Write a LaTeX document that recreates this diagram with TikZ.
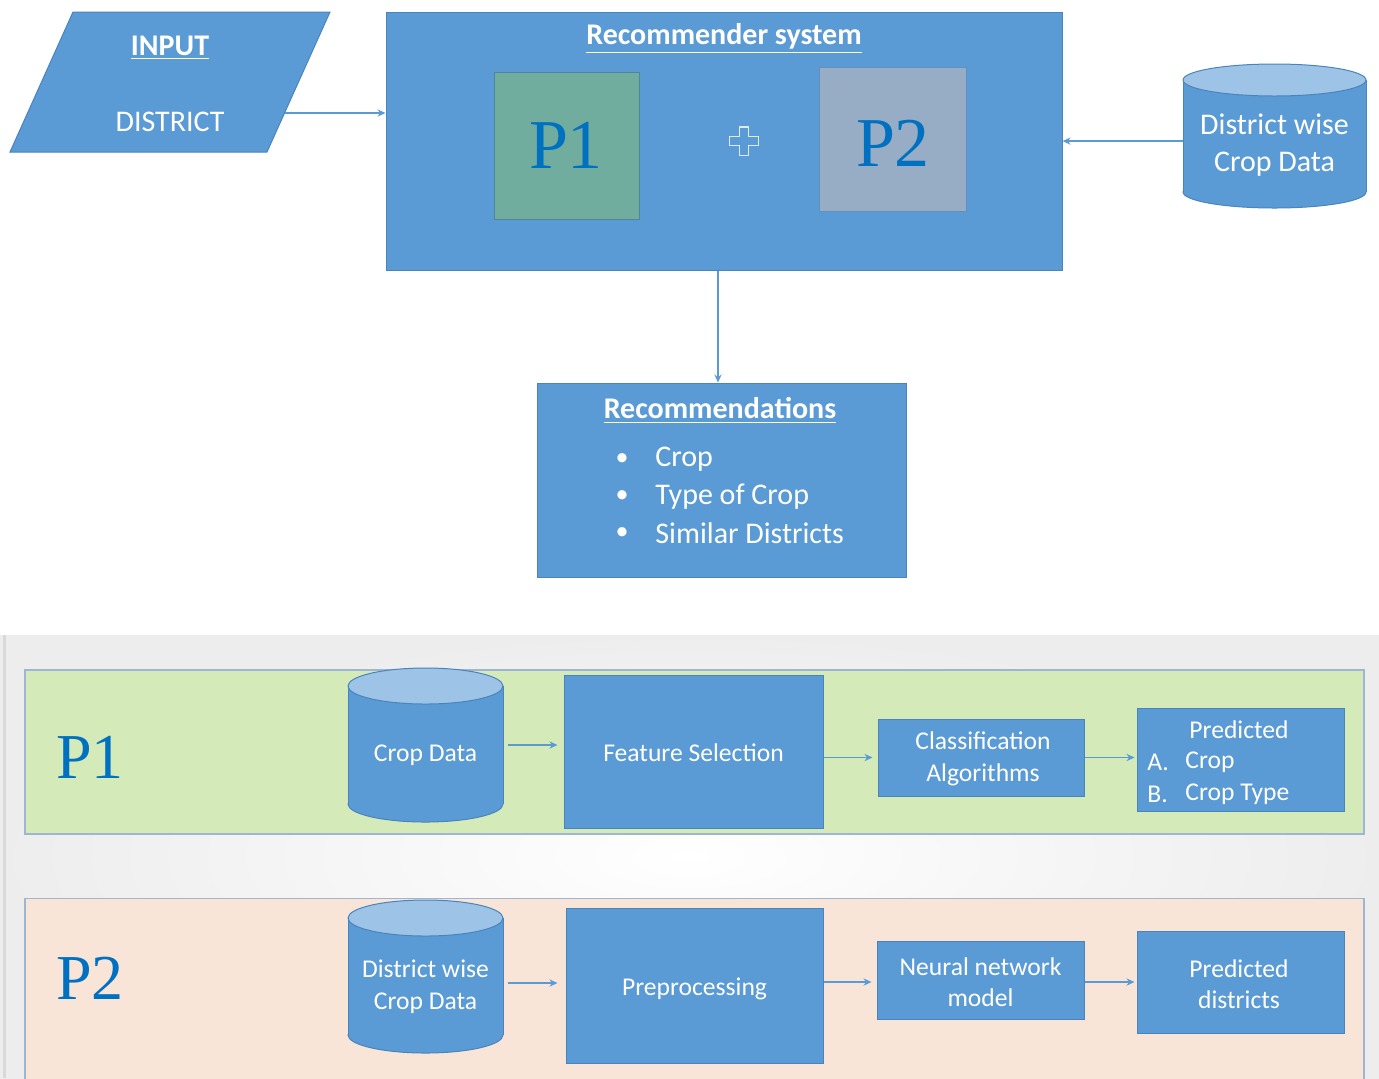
\documentclass[tikz,border=0pt]{standalone}
\usepackage{fontspec}
\setmainfont{Carlito}
\newfontfamily\pfont{Liberation Serif}
\usetikzlibrary{arrows.meta,calc}
\definecolor{mblue}{HTML}{5B9BD5}
\definecolor{bline}{HTML}{4A84BD}
\definecolor{ctop}{HTML}{9DC3E6}
\definecolor{pgreen}{HTML}{70AD9F}
\definecolor{pgrey}{HTML}{97ADC5}
\definecolor{ptext}{HTML}{0070C0}
\definecolor{bandg}{HTML}{D4EAB9}
\definecolor{bando}{HTML}{F8E5D8}
\definecolor{bandline}{HTML}{9FB6D2}
\definecolor{arrc}{HTML}{5B9BD5}
\newcommand\mycyl[5]{%
  \filldraw[fill=mblue,draw=bline,line width=0.5pt] (#1,#3) ellipse ({#4*0.5pt} and {#5*0.5pt});
  \fill[mblue] (#1-#4,#2) rectangle (#1+#4,#3);
  \draw[bline,line width=0.5pt] (#1-#4,#2) -- (#1-#4,#3) (#1+#4,#2) -- (#1+#4,#3);
  \filldraw[fill=ctop,draw=bline,line width=0.5pt] (#1,#2) ellipse ({#4*0.5pt} and {#5*0.5pt});}
\tikzset{
  bbox/.style={draw=bline, line width=0.5pt, fill=mblue, inner sep=0pt},
  wbig/.style={text=white, font=\fontsize{15}{18.5}\selectfont, align=center, inner sep=0pt, yshift=-1.25pt},
  wsm/.style={text=white, font=\fontsize{12.8}{15.8}\selectfont, align=center, inner sep=0pt, yshift=-1pt},
  ptxt/.style={text=ptext, inner sep=0pt},
  arr/.style={draw=arrc, line width=0.7pt, -{Stealth[length=4pt,width=3.6pt]}},
  band/.style={draw=bandline, line width=0.6pt, inner sep=0pt},
}
\begin{document}
\begin{tikzpicture}[x=0.5pt,y=-0.5pt]
\useasboundingbox (0,0) rectangle (1379,1078);
\fill[white] (0,0) rectangle (1379,1078);
% ---------- top part ----------
\filldraw[fill=mblue,draw=bline,line width=0.5pt] (73,12) -- (330,12) -- (267,152) -- (10,152) -- cycle;
\node[wbig] (inputt) at (170,45) {\underline{\textbf{INPUT}}};
\node[wbig] (district) at (170,119) {DISTRICT};
\coordinate (inR) at (285,113);

\node[bbox, minimum width=338pt, minimum height=129pt] (rec) at (724,141) {};
\node[wbig] (rectitle) at (724,36) {\underline{\textbf{Recommender system}}};
\node[draw=bline!80!black!60!pgreen, fill=pgreen, line width=0.5pt, minimum width=72.5pt, minimum height=73.5pt, inner sep=0pt] (p1box) at (566.5,145.5) {};
\node[ptxt, font=\pfont\fontsize{35}{35}\selectfont] (p1t) at (566,145) {P1};
\node[draw=bline!70!pgrey, fill=pgrey, line width=0.5pt, minimum width=73.5pt, minimum height=72pt, inner sep=0pt] (p2box) at (892.5,139) {};
\node[ptxt, font=\pfont\fontsize{35}{35}\selectfont] (p2t) at (893,143) {P2};
\filldraw[fill=mblue, draw=white!80!mblue, line width=0.7pt]
  (739.5,127) -- (748.5,127) -- (748.5,136.5) -- (758.5,136.5) -- (758.5,145.5) -- (748.5,145.5) -- (748.5,155.5) -- (739.5,155.5) -- (739.5,145.5) -- (729.5,145.5) -- (729.5,136.5) -- (739.5,136.5) -- cycle;

\mycyl{1274.5}{80}{192}{91.5}{16}
\node[wbig, minimum width=91.5pt] (dcyl) at (1274.5,143) {District wise\\Crop Data};

\draw[arr] (inR) -- (rec.west |- inR);
\draw[arr] ([yshift=2.2pt]dcyl.west) -- ([yshift=2.2pt]rec.east |- dcyl.west);

\node[bbox, minimum width=184.5pt, minimum height=97pt] (recom) at (721.5,480) {};
\node[wbig] (recomt) at (720,408) {\underline{\textbf{Recommendations}}};
\foreach \yy/\tt in {457/Crop, 494/Type of Crop, 531/Similar Districts}{
  \node[wbig, font=\fontsize{13}{15}\selectfont] at (622,\yy) {•};
  \node[wbig, anchor=west] at (655,\yy) {\tt};
}
\draw[arr] ([xshift=-3pt]rec.south) -- ([xshift=-3pt]rec.south |- recom.north);

% ---------- bottom part ----------
\shade[inner color=white, outer color=black!7] (0,635) rectangle (1379,1078);
\draw[black!15, line width=1.5pt] (4,635) -- (4,1078);

\node[band, fill=bandg, minimum width=669.5pt, minimum height=82pt] (band1) at (694.5,752) {};
\node[ptxt, font=\pfont\fontsize{32}{32}\selectfont] (bp1) at (90,757) {P1};
\mycyl{425.5}{686}{804}{77.5}{18}
\node[wsm, minimum width=77.5pt] (cd) at (425.5,753) {Crop Data};
\node[bbox, minimum width=129.5pt, minimum height=76.5pt] (fs) at (693.5,751.5) {};
\node[wsm] (fst) at (693.5,751) {Feature Selection};
\node[bbox, minimum width=103pt, minimum height=38.5pt] (cls) at (981,757.5) {};
\node[wsm] (clst) at (983,757) {Classification\\Algorithms};
\node[bbox, minimum width=103.5pt, minimum height=51.5pt] (pred1) at (1240.5,759.5) {};
\node[wsm] (pr1a) at (1239,728) {Predicted};
\node[wsm, anchor=west] (pr1b) at (1147,760) {A.};
\node[wsm, anchor=west] (pr1c) at (1185,760) {Crop};
\node[wsm, anchor=west] (pr1d) at (1147,792) {B.};
\node[wsm, anchor=west] (pr1e) at (1185,792) {Crop Type};
\draw[arr, shorten <=2.5pt, shorten >=3pt] ([yshift=5pt]cd.east) -- ([yshift=5pt]cd.east -| fs.west);
\draw[arr, shorten >=2.5pt] (fs.east |- cls.west) -- (cls.west);
\draw[arr, shorten >=1pt] (cls.east) -- (pred1.west |- cls.east);

\node[band, fill=bando, minimum width=669.5pt, minimum height=91pt] (band2) at (694.5,989.5) {};
\node[ptxt, font=\pfont\fontsize{32}{32}\selectfont] (bp2) at (90,978) {P2};
\mycyl{425.5}{918}{1035}{77.5}{18}
\node[wsm, minimum width=77.5pt] (dcd2) at (425.5,985) {District wise\\Crop Data};
\node[bbox, minimum width=128.5pt, minimum height=77.5pt] (pre) at (694.5,985.5) {};
\node[wsm] (pret) at (694.5,987) {Preprocessing};
\node[bbox, minimum width=103.5pt, minimum height=39pt] (nn) at (980.5,980) {};
\node[wsm] (nnt) at (980.5,980) {Neural network\\model};
\node[bbox, minimum width=103.5pt, minimum height=51pt] (pd) at (1240.5,982) {};
\node[wsm] (pdt) at (1239,982) {Predicted\\districts};
\draw[arr, shorten <=2.5pt, shorten >=4pt] ([yshift=2pt]dcd2.east) -- ([yshift=2pt]dcd2.east -| pre.west);
\draw[arr, shorten >=2.5pt] ([yshift=-1pt]pre.east |- nn.west) -- ([yshift=-1pt]nn.west);
\draw[arr, shorten >=1pt] ([yshift=-1pt]nn.east) -- ([yshift=-1pt]pd.west |- nn.east);
\end{tikzpicture}
\end{document}
